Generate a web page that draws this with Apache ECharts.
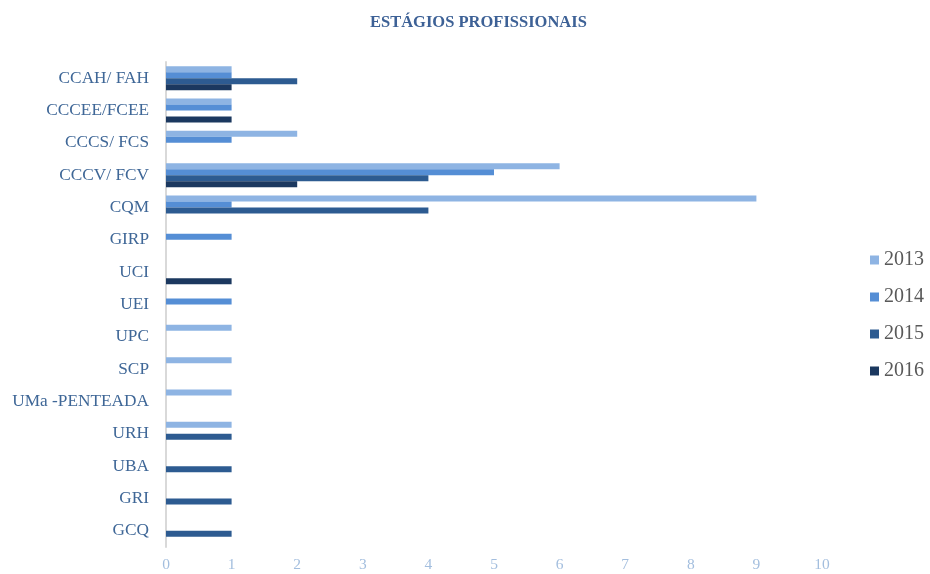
<!DOCTYPE html>
<html><head><meta charset="utf-8">
<script src="https://cdn.jsdelivr.net/npm/echarts@6/dist/echarts.min.js"></script>
<style>html,body{margin:0;padding:0;background:#fff}#c{width:930px;height:574px}</style>
</head><body><div id="c"></div>
<script>
const categories = ["CCAH/ FAH","CCCEE/FCEE","CCCS/ FCS","CCCV/ FCV","CQM","GIRP","UCI","UEI","UPC","SCP","UMa -PENTEADA","URH","UBA","GRI","GCQ"];
const years = ["2013","2014","2015","2016"];
const v2013 = [1,1,2,6,9,0,0,0,1,1,1,1,0,0,0];
const v2014 = [1,1,1,5,1,1,0,1,0,0,0,0,0,0,0];
const v2015 = [2,0,0,4,4,0,0,0,0,0,0,1,1,1,1];
const v2016 = [1,1,0,2,0,0,1,0,0,0,0,0,0,0,0];
const xTicks = [0,1,2,3,4,5,6,7,8,9,10];
const colors = ["#8EB4E3","#558ED5","#2D5B91","#1B385F"];
const values = [v2013,v2014,v2015,v2016];

const chart = echarts.init(document.getElementById('c'));
chart.setOption({
  animation:false,
  title:{text:"ESTÁGIOS PROFISSIONAIS",left:365,top:9,
    textStyle:{fontFamily:"Liberation Serif",fontWeight:'bold',fontSize:16.5,color:"#3D6196"}},
  legend:{orient:'vertical',right:1,top:245,itemGap:17,itemWidth:9,itemHeight:9,icon:'rect',
    textStyle:{fontFamily:"Liberation Serif",fontSize:20,color:"#595959"},data:years},
  grid:{left:166,right:108,top:62,bottom:27,containLabel:false},
  xAxis:{type:'value',min:0,max:10,interval:1,
    axisLine:{show:false},axisTick:{show:false},splitLine:{show:false},
    axisLabel:{color:"#A3BEDE",fontFamily:"Liberation Serif",fontSize:15.5,margin:10,
      formatter:function(v){return xTicks.indexOf(v)>=0?String(v):'';}}},
  yAxis:{type:'category',data:categories,inverse:true,
    axisLine:{show:true,lineStyle:{color:"#D9D9D9",width:2}},axisTick:{show:false},
    axisLabel:{color:"#3F6797",fontFamily:"Liberation Serif",fontSize:17.3,margin:17}},
  series: years.map((y,i)=>({name:y,type:'bar',data:values[i],barWidth:6,barGap:'0%',
    itemStyle:{color:colors[i]}}))
});
</script></body></html>
